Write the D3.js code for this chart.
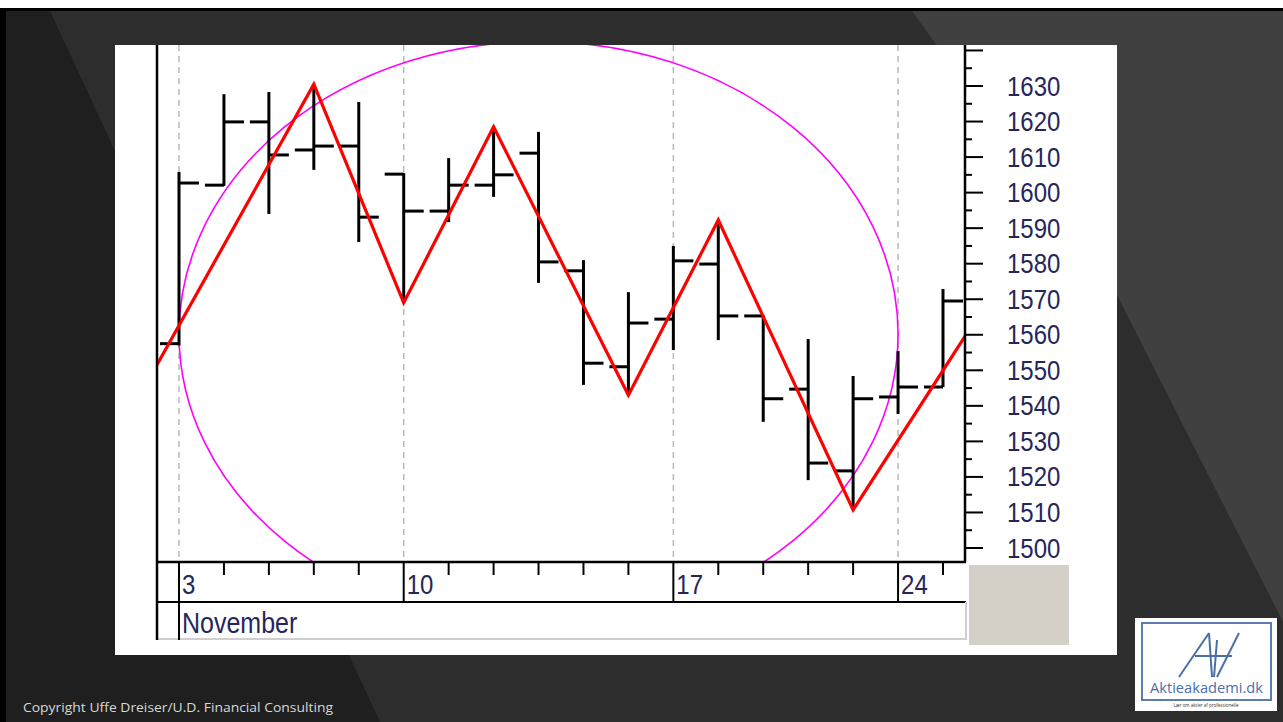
<!DOCTYPE html>
<html>
<head>
<meta charset="utf-8">
<script src="https://cdn.jsdelivr.net/npm/d3@7"></script>
<style>
  html, body { margin: 0; padding: 0; background: #fff; overflow: hidden; }
  svg { display: block; }
</style>
</head>
<body>
<svg id="chart" width="1283" height="722"></svg>
<script>
// trading days shown, index 0 = 3 November
const dayIndex = d3.range(0, 18);
const opens  = [1557.5, 1602.1, 1619.9, 1612.0, 1613.1, 1605.2, 1594.8, 1602.1, 1611.1, 1578.0, 1551.0, 1564.4, 1579.9, 1565.3, 1544.7, 1521.7, 1542.5, 1545.3];
const highs  = [1605.8, 1627.7, 1628.3, 1630.5, 1625.5, 1605.5, 1609.7, 1618.5, 1617.1, 1581.0, 1572.0, 1585.0, 1592.3, 1565.5, 1558.8, 1548.4, 1555.4, 1572.9];
const lows   = [1557.0, 1601.9, 1594.0, 1606.4, 1586.1, 1569.0, 1591.7, 1598.8, 1574.6, 1545.9, 1543.0, 1555.7, 1558.5, 1535.5, 1519.1, 1510.7, 1537.7, 1545.3];
const closes = [1602.7, 1619.9, 1610.6, 1613.1, 1593.1, 1594.8, 1602.1, 1605.0, 1580.5, 1552.0, 1563.3, 1580.8, 1565.3, 1542.0, 1523.9, 1542.0, 1545.3, 1569.5];

// zigzag pivots (day index, price)
const zigIndex = [-1, 3, 5, 7, 10, 12, 15, 18];
const zigPrice = [1540, 1630.5, 1569, 1618.5, 1543, 1592.3, 1510.7, 1569.6];

// ellipse drawn on the chart: centre and radii in days / points
const ellipseCenter = [8, 1560.2];
const ellipseRadius = [8, 82.3];

const weekIndex = [0, 5, 11, 16];
const weekLabels = ["3", "10", "17", "24"];
const monthLabel = "November";

const priceTicks = [1500, 1510, 1520, 1530, 1540, 1550, 1560, 1570, 1580, 1590, 1600, 1610, 1620, 1630];
const extraMajor = [1640];
const minorTicks = [1505, 1515, 1525, 1535, 1545, 1555, 1565, 1575, 1585, 1595, 1605, 1615, 1625, 1635];

const copyright = "Copyright Uffe Dreiser/U.D. Financial Consulting";

const svg = d3.select("#chart");

// ---- slide background ----
svg.append("rect").attr("x", 0).attr("y", 8).attr("width", 1283).attr("height", 714).attr("fill", "#000");
svg.append("rect").attr("x", 6).attr("y", 11).attr("width", 1277).attr("height", 711).attr("fill", "#2d2d2d");
svg.append("polygon").attr("points", "6,11 50,11 380,722 6,722").attr("fill", "#1f1f1f");
svg.append("polygon").attr("points", "912,11 1283,11 1283,622 1118,297").attr("fill", "#404040");

svg.append("text")
  .attr("x", 23).attr("y", 712)
  .attr("font-family", "'Open Sans', 'Noto Sans', sans-serif")
  .attr("font-size", 12.5)
  .attr("fill", "#d8d8d8")
  .attr("textLength", 310)
  .attr("lengthAdjust", "spacingAndGlyphs")
  .text(copyright);

// ---- chart picture ----
const plotLeft = 157, plotRight = 966, plotTop = 45, plotBottom = 562;
svg.append("rect").attr("x", 115).attr("y", 45).attr("width", 1002).attr("height", 610).attr("fill", "#fff");

const x = d3.scaleLinear().domain([0, 17]).range([179, 943]);
const y = d3.scaleLinear().domain([1500, 1630]).range([548, 86]);

svg.append("clipPath").attr("id", "plotclip")
  .append("rect").attr("x", plotLeft).attr("y", plotTop).attr("width", plotRight - plotLeft).attr("height", plotBottom - plotTop);

const plot = svg.append("g").attr("clip-path", "url(#plotclip)");

// dashed week gridlines
plot.selectAll("line.grid").data(weekIndex).enter().append("line")
  .attr("class", "grid")
  .attr("x1", d => x(d)).attr("x2", d => x(d))
  .attr("y1", plotTop).attr("y2", plotBottom)
  .attr("stroke", "#b8b8b8").attr("stroke-width", 1.5)
  .attr("stroke-dasharray", "6,5");

// ellipse
plot.append("ellipse")
  .attr("cx", x(ellipseCenter[0]))
  .attr("cy", y(ellipseCenter[1]))
  .attr("rx", x(ellipseRadius[0]) - x(0))
  .attr("ry", y(1500 - ellipseRadius[1]) - y(1500))
  .attr("fill", "none").attr("stroke", "#ff00ff").attr("stroke-width", 1.6);

// OHLC bars
const bars = plot.selectAll("g.bar").data(dayIndex).enter().append("g").attr("class", "bar");
bars.append("line")
  .attr("x1", d => x(d)).attr("x2", d => x(d))
  .attr("y1", d => y(highs[d])).attr("y2", d => y(lows[d]))
  .attr("stroke", "#000").attr("stroke-width", 3);
bars.append("line")
  .attr("x1", d => x(d) - 19).attr("x2", d => x(d))
  .attr("y1", d => y(opens[d])).attr("y2", d => y(opens[d]))
  .attr("stroke", "#000").attr("stroke-width", 3);
bars.append("line")
  .attr("x1", d => x(d)).attr("x2", d => x(d) + 20)
  .attr("y1", d => y(closes[d])).attr("y2", d => y(closes[d]))
  .attr("stroke", "#000").attr("stroke-width", 3);

// zigzag
const zig = d3.line().x(d => x(zigIndex[d])).y(d => y(zigPrice[d]));
plot.append("path")
  .attr("d", zig(d3.range(zigIndex.length)))
  .attr("fill", "none").attr("stroke", "#ff0000").attr("stroke-width", 3.2)
  .attr("stroke-linejoin", "miter");

// right price axis
const axisG = svg.append("g").attr("transform", `translate(${plotRight - 1},0)`);
axisG.append("line").attr("x1", 0).attr("x2", 0).attr("y1", plotTop).attr("y2", plotBottom)
  .attr("stroke", "#000").attr("stroke-width", 2.5);
axisG.selectAll("line.major").data(priceTicks.concat(extraMajor)).enter().append("line")
  .attr("x1", 0).attr("x2", 18).attr("y1", d => y(d)).attr("y2", d => y(d))
  .attr("stroke", "#000").attr("stroke-width", 2);
axisG.selectAll("line.minor").data(minorTicks).enter().append("line")
  .attr("x1", 0).attr("x2", 7).attr("y1", d => y(d)).attr("y2", d => y(d))
  .attr("stroke", "#000").attr("stroke-width", 2);

const labelFont = "'Liberation Sans', Arial, sans-serif";
const textColor = "#26265a";
svg.selectAll("text.price").data(priceTicks).enter().append("text")
  .attr("class", "price")
  .attr("transform", d => `translate(1007,${y(d) + 9.5}) scale(1,1.15)`)
  .attr("font-family", labelFont).attr("font-size", 24)
  .attr("fill", textColor)
  .text(d => d);

// ---- date axis ----
const frame = svg.append("g");
frame.append("line").attr("x1", plotLeft).attr("x2", plotRight).attr("y1", plotBottom).attr("y2", plotBottom)
  .attr("stroke", "#000").attr("stroke-width", 2.5);
frame.append("line").attr("x1", plotLeft).attr("x2", plotRight).attr("y1", 602).attr("y2", 602)
  .attr("stroke", "#000").attr("stroke-width", 2);
frame.append("line").attr("x1", plotLeft).attr("x2", plotRight).attr("y1", 639).attr("y2", 639)
  .attr("stroke", "#cfcfcf").attr("stroke-width", 2);
frame.append("line").attr("x1", plotRight).attr("x2", plotRight).attr("y1", 602).attr("y2", 640)
  .attr("stroke", "#cfcfcf").attr("stroke-width", 2);
frame.append("line").attr("x1", plotLeft).attr("x2", plotLeft).attr("y1", plotTop).attr("y2", 640)
  .attr("stroke", "#000").attr("stroke-width", 2.5);

frame.selectAll("line.day").data(dayIndex.filter(d => !weekIndex.includes(d))).enter().append("line")
  .attr("x1", d => x(d)).attr("x2", d => x(d))
  .attr("y1", plotBottom).attr("y2", plotBottom + 13)
  .attr("stroke", "#000").attr("stroke-width", 2);
frame.selectAll("line.week").data(weekIndex).enter().append("line")
  .attr("x1", d => x(d)).attr("x2", d => x(d))
  .attr("y1", plotBottom).attr("y2", (d, i) => i === 0 ? 640 : 602)
  .attr("stroke", "#000").attr("stroke-width", 2);

frame.selectAll("text.week").data(weekIndex).enter().append("text")
  .attr("transform", d => `translate(${x(d) + 3},${594}) scale(1,1.15)`)
  .attr("font-family", labelFont).attr("font-size", 24)
  .attr("fill", textColor)
  .text((d, i) => weekLabels[i]);

frame.append("text")
  .attr("transform", `translate(${x(0) + 3},633) scale(1,1.15)`)
  .attr("font-family", labelFont).attr("font-size", 25)
  .attr("fill", textColor)
  .text(monthLabel);

svg.append("rect").attr("x", 969).attr("y", 565).attr("width", 100).attr("height", 80).attr("fill", "#d4d0c8");

// ---- logo ----
const logo = svg.append("g");
const blue = "#4a6fa8";
logo.append("rect").attr("x", 1135).attr("y", 618).attr("width", 142).attr("height", 93).attr("fill", "#fff");
logo.append("rect").attr("x", 1142).attr("y", 623).attr("width", 129).attr("height", 77)
  .attr("fill", "none").attr("stroke", blue).attr("stroke-width", 1.8);
const strokes = [
  [1179, 677, 1209, 633],
  [1209, 633, 1212, 677],
  [1214, 677, 1217, 640],
  [1217, 677, 1239, 633],
  [1195, 656, 1232, 656]
];
logo.selectAll("line.av").data(strokes).enter().append("line")
  .attr("x1", d => d[0]).attr("y1", d => d[1]).attr("x2", d => d[2]).attr("y2", d => d[3])
  .attr("stroke", blue).attr("stroke-width", 2);
logo.append("text")
  .attr("x", 1150).attr("y", 693)
  .attr("font-family", "'Open Sans', sans-serif").attr("font-size", 15)
  .attr("fill", blue)
  .attr("textLength", 113).attr("lengthAdjust", "spacingAndGlyphs")
  .text("Aktieakademi.dk");
logo.append("text")
  .attr("x", 1206).attr("y", 707)
  .attr("text-anchor", "middle")
  .attr("font-family", "'Open Sans', sans-serif").attr("font-size", 4.5)
  .attr("fill", "#333")
  .text("Lær om aktier af professionelle");
</script>
</body>
</html>
